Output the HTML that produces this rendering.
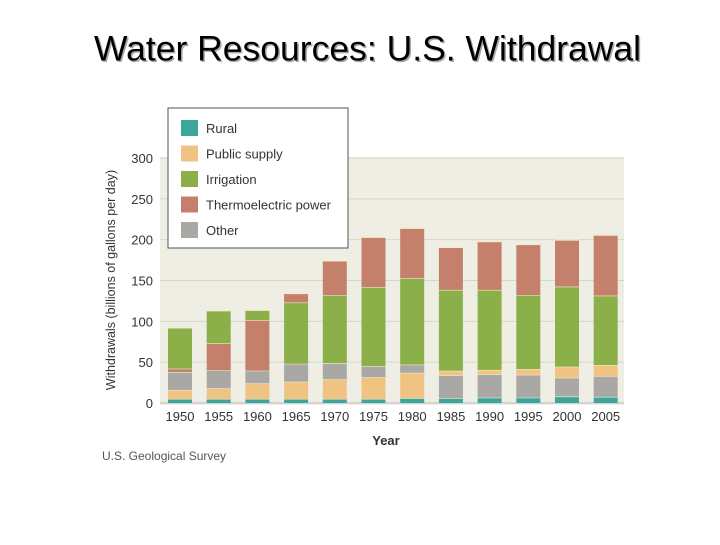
<!DOCTYPE html>
<html><head><meta charset="utf-8"><style>
body{margin:0;background:#fff;width:720px;height:540px;overflow:hidden;font-family:"Liberation Sans",sans-serif}
</style></head><body>
<svg width="720" height="540" viewBox="0 0 720 540">
<text x="369" y="62" text-anchor="middle" font-size="35.5" fill="#aaa">Water Resources: U.S. Withdrawal</text>
<text x="367.5" y="60.5" text-anchor="middle" font-size="35.5" fill="#000">Water Resources: U.S. Withdrawal</text>
<rect x="160" y="157" width="464" height="248" fill="#eeeee4"/>
<g id="grid"></g>
<g id="bars"></g>
<g id="yticks" font-size="13" fill="#333" text-anchor="end"></g>
<g id="xticks" font-size="13" fill="#333" text-anchor="middle"></g>
<text transform="translate(115,280) rotate(-90)" text-anchor="middle" font-size="12.5" fill="#333">Withdrawals (billions of gallons per day)</text>
<text x="386" y="445" text-anchor="middle" font-size="13" font-weight="bold" fill="#333">Year</text>
<text x="102" y="460" font-size="12" fill="#555">U.S. Geological Survey</text>
<g>
<rect x="168" y="108" width="180" height="140" fill="#fff" stroke="#555" stroke-width="1"/>
<g id="legend" font-size="13" fill="#333"></g>
</g>
</svg>
<script>
const years=[1950,1955,1960,1965,1970,1975,1980,1985,1990,1995,2000,2005];
const rural=[5,5,5,5,5,5,6,6,6.5,6.5,8,7.5];
const publicSupply=[11,13,19,21,24,26.5,31,5.5,5.5,7,13.5,13.5];
const irrigation=[50,40,12,75,83,97,106,99,98,90.5,98,85];
const thermo=[4,33,62,11,42,61,61,52,59,62,57,74];
const other=[22,22,15.6,22,20,13.5,10,28,28.5,28,23,25.5];
const yTicks=[0,50,100,150,200,250,300];
const names=['Rural','Public supply','Irrigation','Thermoelectric power','Other'];
const colors=['#3ca59e','#f0c383','#8bb04a','#c4806a','#a9a8a4'];
const series=[rural,publicSupply,irrigation,thermo,other];
// stacking order per year (series indices, bottom to top)
const order=[[0,1,4,3,2],[0,1,4,3,2],[0,1,4,3,2],[0,1,4,2,3],[0,1,4,2,3],[0,1,4,2,3],[0,1,4,2,3],[0,4,1,2,3],[0,4,1,2,3],[0,4,1,2,3],[0,4,1,2,3],[0,4,1,2,3]];
const NS='http://www.w3.org/2000/svg';
const y0=403, ppu=245/300;
const yS=v=>y0-v*ppu;
const xS=i=>180+i*38.7;
const bw=24;
const grid=document.getElementById('grid');
yTicks.forEach(t=>{
 const l=document.createElementNS(NS,'line');
 l.setAttribute('x1',160);l.setAttribute('x2',624);l.setAttribute('y1',yS(t));l.setAttribute('y2',yS(t));
 l.setAttribute('stroke',t===0?'#bbb':'#d6d6c8');l.setAttribute('stroke-width',1);
 
 
 grid.appendChild(l);
 const tx=document.createElementNS(NS,'text');
 tx.setAttribute('x',153);tx.setAttribute('y',yS(t)+5);tx.textContent=t;
 
 
 document.getElementById('yticks').appendChild(tx);
});
const bars=document.getElementById('bars');
years.forEach((yr,i)=>{
 let acc=0;
 order[i].forEach(s=>{
  const v=series[s][i];
  const r=document.createElementNS(NS,'rect');
  r.setAttribute('x',xS(i)-bw/2);r.setAttribute('width',bw);
  r.setAttribute('y',yS(acc+v));r.setAttribute('height',v*ppu);
  r.setAttribute('fill',colors[s]);
  
  
  bars.appendChild(r);
  acc+=v;
  if(acc>0){const ln=document.createElementNS(NS,'line');
  ln.setAttribute('x1',xS(i)-bw/2);ln.setAttribute('x2',xS(i)+bw/2);ln.setAttribute('y1',yS(acc));ln.setAttribute('y2',yS(acc));
  ln.setAttribute('stroke','#f6eccb');ln.setAttribute('stroke-width',1.2);
  
  
  bars.appendChild(ln);}
 });
 const tx=document.createElementNS(NS,'text');
 tx.setAttribute('x',xS(i));tx.setAttribute('y',421);tx.textContent=yr;
 
 
 document.getElementById('xticks').appendChild(tx);
});
const lg=document.getElementById('legend');
names.forEach((n,k)=>{
 const g=document.createElementNS(NS,'g');
 
 
 const r=document.createElementNS(NS,'rect');
 r.setAttribute('x',181);r.setAttribute('y',120+k*25.5);r.setAttribute('width',17);r.setAttribute('height',16);r.setAttribute('fill',colors[k]);
 const t=document.createElementNS(NS,'text');
 t.setAttribute('x',206);t.setAttribute('y',133+k*25.5);t.textContent=n;
 g.appendChild(r);g.appendChild(t);lg.appendChild(g);
});
</script>
</body></html>
